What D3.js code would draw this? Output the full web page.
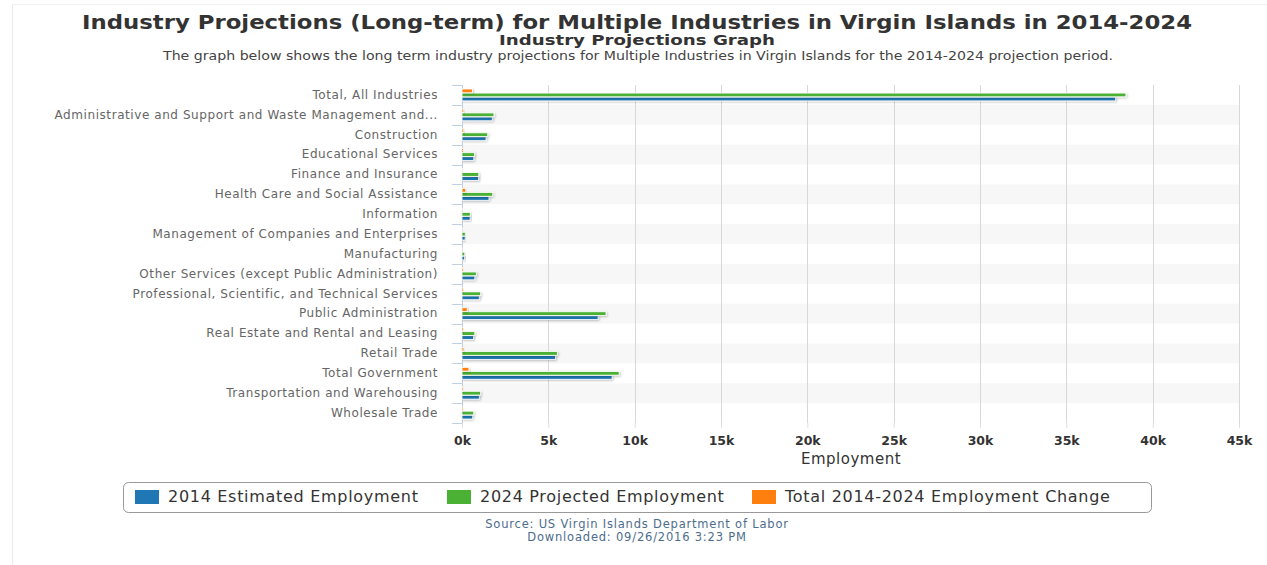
<!DOCTYPE html>
<html>
<head>
<meta charset="utf-8">
<script src="https://cdn.jsdelivr.net/npm/d3@7"></script>
<style>
  html, body { margin: 0; padding: 0; background: #fff; }
  svg { display: block; }
</style>
</head>
<body>
<svg id="chart" width="1267" height="565"></svg>
<script>
const categories = [
  "Total, All Industries",
  "Administrative and Support and Waste Management and...",
  "Construction",
  "Educational Services",
  "Finance and Insurance",
  "Health Care and Social Assistance",
  "Information",
  "Management of Companies and Enterprises",
  "Manufacturing",
  "Other Services (except Public Administration)",
  "Professional, Scientific, and Technical Services",
  "Public Administration",
  "Real Estate and Rental and Leasing",
  "Retail Trade",
  "Total Government",
  "Transportation and Warehousing",
  "Wholesale Trade"
];
const employment2014 = [37850, 1750, 1390, 680, 950, 1560, 470, 180, 150, 740, 1000, 7880, 660, 5410, 8690, 1000, 620];
const employment2024 = [38450, 1850, 1490, 730, 970, 1780, 480, 190, 160, 830, 1080, 8340, 740, 5520, 9100, 1080, 680];
const employmentChange = [600, 100, 100, 50, 20, 220, 10, 10, 10, 90, 80, 300, 80, 110, 400, 80, 60];
const xTicks = [0, 5000, 10000, 15000, 20000, 25000, 30000, 35000, 40000, 45000];
const seriesNames = ["2014 Estimated Employment", "2024 Projected Employment", "Total 2014-2024 Employment Change"];
const seriesColors = ["#1f77b4", "#4bb135", "#ff7f0e"];

const svg = d3.select("#chart");
const W = 1267, H = 565;
const plot = { left: 462, right: 1239, top: 85, bottom: 423 };
const FONT = "DejaVu Sans, Verdana, sans-serif";

const defs = svg.append("defs");
const f = defs.append("filter").attr("id", "shadow").attr("x", "-10%").attr("y", "-50%").attr("width", "130%").attr("height", "250%");
f.append("feDropShadow").attr("dx", 1).attr("dy", 1).attr("stdDeviation", 0.8).attr("flood-color", "#000").attr("flood-opacity", 0.25);

// frame
svg.append("line").attr("x1", 12.5).attr("x2", 12.5).attr("y1", 4).attr("y2", H).attr("stroke", "#ececec");
svg.append("line").attr("x1", 12).attr("x2", W).attr("y1", 4.5).attr("y2", 4.5).attr("stroke", "#f2f2f2");

// titles
svg.append("text").attr("x", 637).attr("y", 29).attr("text-anchor", "middle")
  .attr("font-family", FONT).attr("font-weight", "bold").attr("font-size", 19)
  .attr("fill", "#333").attr("textLength", 1110).attr("lengthAdjust", "spacingAndGlyphs")
  .text("Industry Projections (Long-term) for Multiple Industries in Virgin Islands in 2014-2024");
svg.append("text").attr("x", 637).attr("y", 45).attr("text-anchor", "middle")
  .attr("font-family", FONT).attr("font-weight", "bold").attr("font-size", 14)
  .attr("fill", "#333").attr("textLength", 276).attr("lengthAdjust", "spacingAndGlyphs")
  .text("Industry Projections Graph");
svg.append("text").attr("x", 638).attr("y", 60).attr("text-anchor", "middle")
  .attr("font-family", FONT).attr("font-size", 11.5)
  .attr("fill", "#444").attr("textLength", 950).attr("lengthAdjust", "spacingAndGlyphs")
  .text("The graph below shows the long term industry projections for Multiple Industries in Virgin Islands for the 2014-2024 projection period.");

// scales
const x = d3.scaleLinear().domain([0, 45000]).range([plot.left, plot.right]);
const y = d3.scaleBand().domain(categories).range([plot.top, plot.bottom]).padding(0);
const inner = d3.scaleBand().domain(["change", "y2024", "y2014"]).range([4, y.bandwidth() - 4]).paddingInner(0.08);

// alternating bands
svg.append("g").selectAll("rect").data(categories.filter((d, i) => i % 2 === 1)).join("rect")
  .attr("x", plot.left).attr("width", plot.right - plot.left)
  .attr("y", d => y(d)).attr("height", y.bandwidth())
  .attr("fill", "#f7f7f7");

// gridlines
svg.append("g").selectAll("line").data(xTicks.slice(1)).join("line")
  .attr("x1", d => Math.round(x(d)) + 0.5).attr("x2", d => Math.round(x(d)) + 0.5)
  .attr("y1", plot.top).attr("y2", plot.bottom)
  .attr("stroke", "#d8d8d8");

// x axis
const xAxis = d3.axisBottom(x).tickValues(xTicks).tickFormat(d => (d / 1000) + "k").tickSize(5).tickPadding(8);
const gx = svg.append("g").attr("transform", `translate(0,${plot.bottom})`).call(xAxis);
gx.select(".domain").remove();
gx.selectAll(".tick line").attr("stroke", "#e0e0e0");
gx.selectAll(".tick text").attr("font-family", FONT).attr("font-weight", "bold")
  .attr("font-size", 12.5).attr("fill", "#333");

svg.append("text").attr("x", 851).attr("y", 464).attr("text-anchor", "middle")
  .attr("font-family", FONT).attr("font-size", 15).attr("letter-spacing", 0.5).attr("fill", "#333")
  .text("Employment");

// y axis
const yAxis = d3.axisLeft(y).tickSize(0).tickPadding(24);
const gy = svg.append("g").attr("transform", `translate(${plot.left},0)`).call(yAxis);
gy.select(".domain").attr("stroke", "#c0d0e0").attr("d", `M0.5,${plot.top}V${plot.bottom}`);
gy.selectAll(".tick text").attr("font-family", FONT)
  .attr("font-size", 12).attr("letter-spacing", 0.57).attr("fill", "#666");
const bounds = categories.map(c => y(c)).concat([plot.bottom]);
svg.append("g").selectAll("line").data(bounds).join("line")
  .attr("x1", plot.left - 10).attr("x2", plot.left)
  .attr("y1", d => Math.round(d) + 0.5).attr("y2", d => Math.round(d) + 0.5)
  .attr("stroke", "#c0d0e0");

// bars
const series = [
  { key: "y2014", values: employment2014, color: seriesColors[0] },
  { key: "y2024", values: employment2024, color: seriesColors[1] },
  { key: "change", values: employmentChange, color: seriesColors[2] }
];
const barsG = svg.append("g");
series.forEach(s => {
  barsG.append("g").selectAll("rect").data(categories).join("rect")
    .attr("x", x(0))
    .attr("y", (c) => y(c) + inner(s.key))
    .attr("width", (c, i) => Math.max(0, x(s.values[i]) - x(0)))
    .attr("height", inner.bandwidth())
    .attr("fill", s.color)
    .attr("stroke", "#fff").attr("stroke-width", 0.8)
    .attr("filter", "url(#shadow)");
});

// legend
const lg = svg.append("g");
lg.append("rect").attr("x", 123.5).attr("y", 482.5).attr("width", 1028).attr("height", 30).attr("rx", 5)
  .attr("fill", "#fff").attr("stroke", "#999");
const legendX = [135, 447, 752];
seriesNames.forEach((n, i) => {
  lg.append("rect").attr("x", legendX[i]).attr("y", 490).attr("width", 24).attr("height", 14).attr("fill", seriesColors[i]);
  lg.append("text").attr("x", legendX[i] + 33).attr("y", 502)
    .attr("font-family", FONT).attr("font-size", 16).attr("letter-spacing", 0.7).attr("fill", "#333")
    .text(n);
});

// source
svg.append("text").attr("x", 637).attr("y", 528).attr("text-anchor", "middle")
  .attr("font-family", FONT).attr("font-size", 11.5).attr("letter-spacing", 0.8).attr("fill", "#4d6d8d")
  .text("Source: US Virgin Islands Department of Labor");
svg.append("text").attr("x", 637).attr("y", 541).attr("text-anchor", "middle")
  .attr("font-family", FONT).attr("font-size", 11.5).attr("letter-spacing", 0.8).attr("fill", "#4d6d8d")
  .text("Downloaded: 09/26/2016 3:23 PM");
</script>
</body>
</html>
